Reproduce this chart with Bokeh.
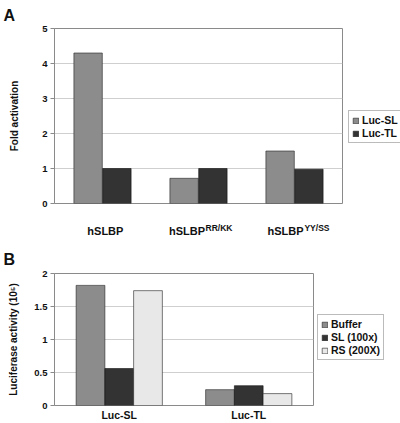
import numpy as np
from bokeh.plotting import figure
from bokeh.models import (ColumnDataSource, Range1d, FactorRange, Legend, LegendItem,
                          LinearAxis, NumeralTickFormatter, FixedTicker)
from bokeh.transform import dodge
from bokeh.layouts import column, row
from bokeh.embed import file_html
from bokeh.resources import INLINE

# ---- Panel A data ----
a_categories = ["hSLBP", "hSLBP RR/KK", "hSLBP YY/SS"]
a_base_labels = ["hSLBP", "hSLBP", "hSLBP"]
a_sup_labels = ["", "RR/KK", "YY/SS"]
a_series = ["Luc-SL", "Luc-TL"]
a_luc_sl = [4.3, 0.72, 1.5]
a_luc_tl = [1.0, 1.0, 0.98]
a_yticks = [0, 1, 2, 3, 4, 5]

# ---- Panel B data ----
b_categories = ["Luc-SL", "Luc-TL"]
b_series = ["Buffer", "SL (100x)", "RS (200X)"]
b_buffer = [1.82, 0.24]
b_sl100 = [0.56, 0.30]
b_rs200 = [1.74, 0.18]
b_yticks = [0, 0.5, 1, 1.5, 2]

C_GRAY = "#8c8c8c"
C_DARK = "#333333"
C_LIGHT = "#e8e8e8"
FONT = "Liberation Sans"
AXC = "#8a8a8a"
TXT = "#111111"


def style_common(p):
    p.outline_line_color = AXC
    p.xgrid.grid_line_color = None
    p.ygrid.grid_line_color = "#cfcfcf"
    p.yaxis.axis_line_color = AXC
    p.yaxis.major_tick_line_color = AXC
    p.yaxis.major_tick_out = 4
    p.yaxis.major_tick_in = 0
    p.yaxis.minor_tick_line_color = None
    p.yaxis.major_label_text_font = FONT
    p.yaxis.major_label_text_font_style = "bold"
    p.yaxis.major_label_text_font_size = "9.5px"
    p.yaxis.major_label_text_color = TXT
    p.yaxis.major_label_standoff = 3
    p.yaxis.axis_label_text_font = FONT
    p.yaxis.axis_label_text_font_style = "bold"
    p.yaxis.axis_label_text_font_size = "10px"
    p.yaxis.axis_label_text_color = TXT
    p.title.text_font = FONT
    p.title.text_font_style = "bold"
    p.title.text_font_size = "16px"
    p.title.text_color = TXT
    p.title.align = "left"


def plain_axis(ax, size):
    ax.axis_line_color = None
    ax.major_tick_line_color = None
    ax.minor_tick_line_color = None
    ax.major_tick_out = 0
    ax.major_tick_in = 0
    ax.major_label_text_font = FONT
    ax.major_label_text_font_style = "bold"
    ax.major_label_text_font_size = size
    ax.major_label_text_color = TXT


def legend_figure(width, height, labels, colors, loc):
    lf = figure(width=width, height=height, x_range=Range1d(0, 1), y_range=Range1d(0, 1),
                output_backend="svg", toolbar_location=None,
                x_axis_location=None, y_axis_location=None, min_border=0)
    lf.outline_line_color = None
    lf.grid.visible = False
    items = []
    for lab, col in zip(labels, colors):
        # swatch-only renderer: one undefined (NaN) row, so nothing is drawn in the plot
        src = ColumnDataSource(dict(x=np.array([np.nan]), top=np.array([np.nan])))
        r = lf.vbar(x="x", top="top", width=0.1, source=src, fill_color=col,
                    line_color="#222222", line_width=0.6)
        items.append(LegendItem(label=lab, renderers=[r], index=0))
    lg = Legend(items=items, location=loc)
    lg.label_text_font = FONT
    lg.label_text_font_style = "bold"
    lg.label_text_font_size = "10.5px"
    lg.label_text_color = TXT
    lg.glyph_width = 7
    lg.glyph_height = 7
    lg.label_standoff = 3
    lg.label_height = 12
    lg.padding = 3
    lg.spacing = 1
    lg.margin = 0
    lg.border_line_color = "#777777"
    lg.border_line_width = 1
    lf.add_layout(lg)
    return lf


# ================= Panel A =================
n_a = len(a_categories)
a_pos = [i + 0.5 for i in range(n_a)]   # centre of each category slot
pa = figure(width=344, height=242, x_range=Range1d(0, n_a),
            y_range=Range1d(0, 5), output_backend="svg", toolbar_location=None,
            x_axis_location=None, title="A",
            min_border_left=54, min_border_right=2, min_border_top=28, min_border_bottom=39)
src_a = ColumnDataSource(dict(pos=a_pos, sl=a_luc_sl, tl=a_luc_tl))
pa.vbar(x=dodge("pos", -0.15), top="sl", width=0.296, source=src_a,
        fill_color=C_GRAY, line_color="#222222", line_width=0.6)
pa.vbar(x=dodge("pos", 0.15), top="tl", width=0.296, source=src_a,
        fill_color=C_DARK, line_color="#111111", line_width=0.6)
style_common(pa)
pa.yaxis.ticker = FixedTicker(ticks=a_yticks)
pa.yaxis.axis_label = "Fold activation"
pa.yaxis.axis_label_standoff = 19
pa.title.standoff = 9
pa.title.offset = -51

# label positions (category centre + small shifts so base+superscript read as one label)
base_shift = [0.03, -0.12, -0.094]
sup_shift = [0.0, 0.214, 0.234]
base_ticks = [a_pos[i] + base_shift[i] for i in range(n_a)]
sup_ticks = [a_pos[i] + sup_shift[i] for i in range(n_a) if a_sup_labels[i]]
sup_texts = [s for s in a_sup_labels if s]

sup_axis = LinearAxis(ticker=FixedTicker(ticks=sup_ticks),
                      major_label_overrides={t: s for t, s in zip(sup_ticks, sup_texts)},
                      major_label_standoff=19)
plain_axis(sup_axis, "8.5px")
base_axis = LinearAxis(ticker=FixedTicker(ticks=base_ticks),
                       major_label_overrides={t: s for t, s in zip(base_ticks, a_base_labels)},
                       major_label_standoff=-11)
plain_axis(base_axis, "11px")
pa.add_layout(sup_axis, "below")
pa.add_layout(base_axis, "below")

la = legend_figure(56, 242, a_series, [C_GRAY, C_DARK], (4, 60))

# ================= Panel B =================
pb = figure(width=315, height=181, x_range=FactorRange(*b_categories, range_padding=0),
            y_range=Range1d(0, 2), output_backend="svg", toolbar_location=None,
            title="B",
            min_border_left=54, min_border_right=2, min_border_top=31, min_border_bottom=18)
src_b = ColumnDataSource(dict(cat=b_categories, buf=b_buffer, sl=b_sl100, rs=b_rs200))
pb.vbar(x=dodge("cat", -0.222, range=pb.x_range), top="buf", width=0.222, source=src_b,
        fill_color=C_GRAY, line_color="#222222", line_width=0.6)
pb.vbar(x=dodge("cat", 0.0, range=pb.x_range), top="sl", width=0.222, source=src_b,
        fill_color=C_DARK, line_color="#111111", line_width=0.6)
pb.vbar(x=dodge("cat", 0.222, range=pb.x_range), top="rs", width=0.222, source=src_b,
        fill_color=C_LIGHT, line_color="#222222", line_width=0.6)
style_common(pb)
pb.yaxis.ticker = FixedTicker(ticks=b_yticks)
pb.yaxis.formatter = NumeralTickFormatter(format="0.[0]")
pb.yaxis.axis_label = "Luciferase activity (10\u2075)"
pb.yaxis.axis_label_standoff = 12
pb.title.standoff = 12
pb.title.offset = -51
plain_axis(pb.xaxis[0], "10.5px")
pb.xaxis.major_label_standoff = 3

lb = legend_figure(85, 181, b_series, [C_GRAY, C_DARK, C_LIGHT], (2, 45))

layout = column(row(pa, la, spacing=0), row(pb, lb, spacing=0), spacing=0)
open("out.html", "w").write(file_html(layout, INLINE))
